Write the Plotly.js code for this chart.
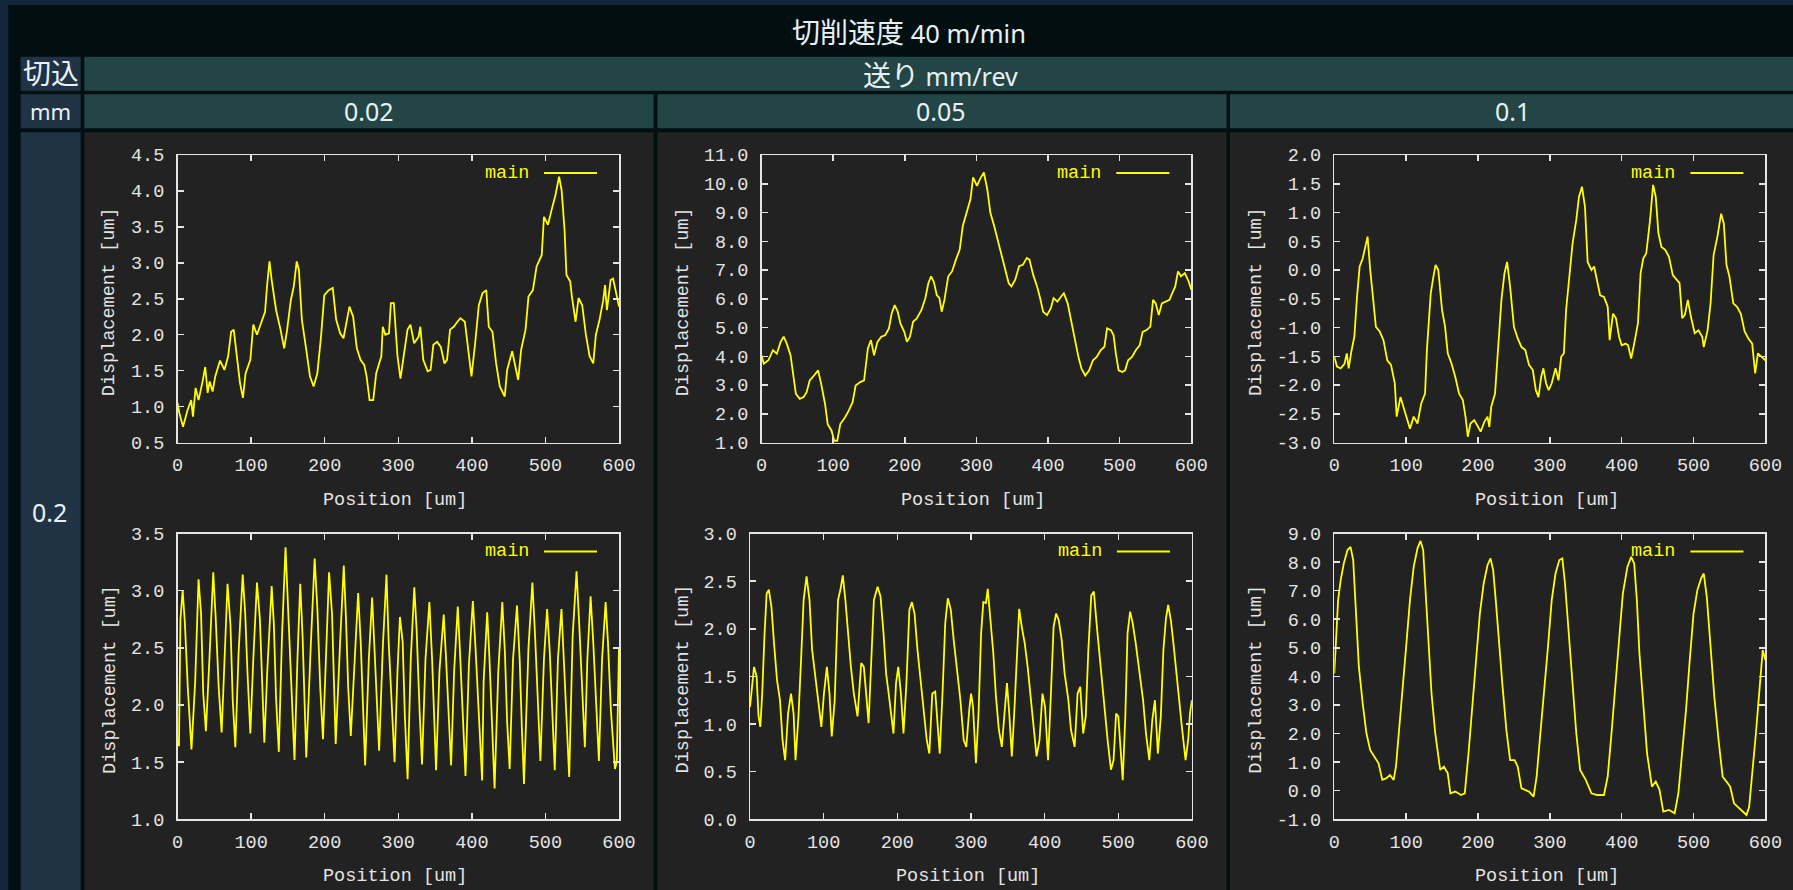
<!DOCTYPE html>
<html>
<head>
<meta charset="utf-8">
<script src="https://cdn.plot.ly/plotly-3.0.1.min.js"></script>
<style>
  html, body { margin: 0; padding: 0; background: #12263d; overflow: hidden; }
  #chart { width: 1793px; height: 890px; }
</style>
</head>
<body>
<div id="chart"></div>
<script>
// Header labels of the comparison table
const titleText = '切削速度';
const speedText = '40 m/min';
const depthHeader = ['切込', 'mm'];
const feedHeader = ['送り', 'mm/rev'];
const feedLabels = ['0.02', '0.05', '0.1'];
const depthLabels = ['0.2'];
const seriesName = 'main';
const xTitle = 'Position [um]';
const yTitle = 'Displacement [um]';

// Shared x ticks (position, um)
const xTickVals = [0, 100, 200, 300, 400, 500, 600];
const xTickText = ['0', '100', '200', '300', '400', '500', '600'];

// Y ticks per panel
const yTicksA = [0.5, 1.0, 1.5, 2.0, 2.5, 3.0, 3.5, 4.0, 4.5];
const yTextA = ['0.5', '1.0', '1.5', '2.0', '2.5', '3.0', '3.5', '4.0', '4.5'];
const yTicksB = [1, 2, 3, 4, 5, 6, 7, 8, 9, 10, 11];
const yTextB = ['1.0', '2.0', '3.0', '4.0', '5.0', '6.0', '7.0', '8.0', '9.0', '10.0', '11.0'];
const yTicksC = [-3.0, -2.5, -2.0, -1.5, -1.0, -0.5, 0.0, 0.5, 1.0, 1.5, 2.0];
const yTextC = ['-3.0', '-2.5', '-2.0', '-1.5', '-1.0', '-0.5', '0.0', '0.5', '1.0', '1.5', '2.0'];
const yTicksD = [1.0, 1.5, 2.0, 2.5, 3.0, 3.5];
const yTextD = ['1.0', '1.5', '2.0', '2.5', '3.0', '3.5'];
const yTicksE = [0.0, 0.5, 1.0, 1.5, 2.0, 2.5, 3.0];
const yTextE = ['0.0', '0.5', '1.0', '1.5', '2.0', '2.5', '3.0'];
const yTicksF = [-1, 0, 1, 2, 3, 4, 5, 6, 7, 8, 9];
const yTextF = ['-1.0', '0.0', '1.0', '2.0', '3.0', '4.0', '5.0', '6.0', '7.0', '8.0', '9.0'];

// Measured displacement profiles: [position um, displacement um]
// depth 0.2, feed 0.02 (upper)
const profA = [[0,1.05],[2.5,0.91],[7.5,0.72],[13.6,0.95],[18.6,1.09],[21,0.86],[24.6,1.26],[28.6,1.09],[33.7,1.33],[37.7,1.55],[41,1.19],[43.7,1.35],[47.7,1.21],[51.3,1.42],[57.8,1.64],[63.8,1.51],[68.8,1.70],[72.9,2.04],[76.4,2.07],[81.4,1.67],[84.9,1.33],[88.9,1.12],[92.5,1.46],[99,1.65],[103,2.14],[108,2.00],[114,2.18],[119,2.32],[121.6,2.67],[125,3.02],[128,2.76],[134,2.34],[140,2.07],[145,1.81],[149,2.07],[154,2.48],[158,2.67],[162,3.02],[165,2.90],[169,2.21],[175,1.79],[180,1.42],[185,1.28],[190,1.46],[195,1.97],[199.5,2.55],[205.5,2.62],[211,2.65],[215.6,2.21],[221,2.02],[225.6,1.95],[229.6,2.16],[233.7,2.39],[238.7,2.25],[243.7,1.81],[248.7,1.65],[253.8,1.58],[257,1.42],[261,1.09],[266,1.09],[270,1.46],[274,1.60],[277,1.70],[279,2.11],[282.4,2.00],[287.4,2.02],[290,2.44],[294,2.44],[296,2.11],[299,1.70],[303,1.39],[307.5,1.70],[312.6,2.07],[316.6,2.14],[321.6,1.88],[327.6,1.97],[330,2.11],[334,1.65],[340,1.49],[344,1.51],[347.7,1.86],[352.8,1.90],[357.8,1.83],[362.8,1.60],[366.3,1.65],[370.4,2.07],[375.4,2.11],[380.4,2.18],[384.4,2.23],[390.5,2.18],[394.5,1.83],[399.5,1.42],[404.5,1.88],[409.5,2.41],[414.6,2.58],[419.6,2.62],[423,2.11],[428,2.04],[433,1.60],[438,1.28],[444.7,1.14],[448,1.51],[454.8,1.77],[458,1.60],[463,1.37],[467,1.79],[473,2.07],[477,2.53],[483,2.62],[488,2.95],[495,3.11],[498,3.64],[503.5,3.53],[508.5,3.74],[513.6,3.94],[518.6,4.20],[522,4.01],[526,3.46],[528.6,2.83],[533.7,2.74],[536,2.53],[541,2.18],[545,2.51],[550,2.41],[555,2.00],[560,1.70],[565,1.60],[568.6,2.00],[573.6,2.21],[578.6,2.48],[581,2.69],[583.6,2.34],[588.6,2.76],[592,2.78],[596.5,2.53],[600,2.39]];

// depth 0.2, feed 0.05 (upper)
const profB = [[0,4.03],[3.2,3.74],[9.6,3.86],[16,4.21],[21.4,4.09],[26.7,4.50],[31,4.68],[35.3,4.44],[40.6,4.03],[44.3,3.28],[48,2.69],[53.4,2.52],[58.8,2.58],[63,2.75],[67.3,3.16],[71.6,3.28],[76.4,3.45],[79,3.51],[83.3,3.04],[88.7,2.34],[92.4,1.64],[97.8,1.41],[101.5,1.06],[105.8,1.06],[110,1.64],[116.5,1.87],[121.8,2.11],[127.2,2.40],[131.4,2.98],[137.8,3.10],[143.2,3.16],[148.5,4.27],[152.8,4.56],[157.1,4.03],[161.9,4.50],[167.2,4.68],[172.6,4.73],[177.9,4.97],[181.7,5.49],[185.9,5.78],[190.2,5.55],[193.9,5.14],[199.3,4.85],[203,4.50],[207.3,4.68],[211.6,5.20],[216.9,5.32],[223.3,5.61],[228.7,6.02],[232.9,6.54],[236.7,6.78],[240.4,6.60],[244.7,6.13],[248.4,6.02],[251.6,5.55],[255.4,5.96],[260.7,6.78],[266,6.95],[271.4,7.36],[276.7,7.71],[281,8.53],[286.4,9.05],[291.7,9.46],[295.4,10.22],[300.8,9.93],[305,10.16],[310.4,10.39],[315.2,9.81],[319.5,8.99],[324.8,8.53],[330.2,8.00],[335.5,7.48],[339.8,7.01],[345.1,6.54],[348.9,6.43],[354.2,6.66],[359.6,7.13],[364.9,7.18],[370.3,7.42],[374,7.36],[379.3,6.83],[384.7,6.43],[389,6.02],[393.2,5.55],[398.6,5.43],[403.9,5.67],[407.7,6.02],[413,5.90],[418.4,6.08],[422.1,6.19],[427.4,5.84],[432.8,5.14],[437.1,4.56],[442.4,3.98],[446.7,3.57],[452,3.33],[457.4,3.51],[462.7,3.86],[468,3.98],[473.4,4.21],[478.7,4.33],[482.4,4.97],[487.8,4.91],[491.5,4.73],[494.7,4.09],[498.5,3.51],[503.8,3.45],[507.6,3.51],[511.8,3.86],[517.2,3.98],[522.5,4.21],[527.9,4.38],[532.1,4.85],[537.5,4.91],[542.8,5.03],[546.6,5.96],[550.3,5.84],[554.6,5.43],[558.9,5.84],[564.2,5.90],[569.6,5.96],[573.3,6.19],[577.6,6.43],[581.4,6.95],[585.6,6.78],[591,6.89],[596.3,6.60],[600,6.31]];

// depth 0.2, feed 0.1 (upper)
const profC = [[0,-1.51],[3.7,-1.68],[8.9,-1.71],[14.2,-1.63],[17.4,-1.45],[20,-1.71],[23.7,-1.42],[27.9,-1.16],[31.6,-0.47],[35.3,0.06],[39.5,0.20],[42.6,0.38],[46.3,0.58],[50,0.00],[54.2,-0.58],[57.9,-0.99],[63.2,-1.07],[68.4,-1.22],[73.7,-1.57],[78.9,-1.65],[84.2,-1.97],[86.8,-2.55],[92.1,-2.21],[97.4,-2.44],[105.3,-2.76],[110.5,-2.55],[115.8,-2.67],[121,-2.32],[126.3,-2.15],[128.9,-1.39],[134.2,-0.41],[137.9,-0.12],[141,0.09],[144.7,0.00],[150,-0.70],[154.2,-0.99],[157.9,-1.45],[163.2,-1.63],[168.4,-1.86],[173.7,-2.15],[178.9,-2.26],[182.6,-2.55],[185.8,-2.90],[189.5,-2.67],[194.7,-2.61],[198.9,-2.70],[203.7,-2.81],[208.9,-2.64],[213.2,-2.55],[215.8,-2.73],[218.4,-2.38],[223.7,-2.15],[227.9,-1.39],[232.6,-0.52],[236.8,-0.06],[240.5,0.14],[244.7,-0.29],[250,-0.99],[255.3,-1.19],[260.5,-1.34],[265.8,-1.39],[271,-1.65],[276.3,-1.74],[280.5,-2.09],[284.2,-2.21],[287.9,-1.86],[291,-1.71],[294.7,-1.97],[298.4,-2.09],[302.6,-1.97],[307.9,-1.71],[312.1,-1.92],[315.8,-1.51],[319.5,-1.45],[322.6,-0.70],[326.3,-0.23],[331.6,0.46],[336.8,0.87],[340.5,1.27],[344.7,1.45],[348.9,1.10],[352.6,0.14],[357.9,0.00],[361.6,0.06],[365.8,-0.17],[370,-0.44],[375.3,-0.47],[380.5,-0.64],[383.2,-1.22],[387.9,-0.76],[392.1,-0.84],[396.3,-1.16],[400,-1.31],[405.3,-1.28],[408.9,-1.31],[413.2,-1.54],[417.4,-1.28],[422.6,-0.93],[426.3,-0.06],[430,0.20],[434.2,0.29],[439.5,0.87],[443.7,1.48],[447.4,1.27],[451.1,0.64],[455.3,0.40],[460.5,0.35],[465.8,0.23],[471.1,-0.09],[476.3,-0.17],[480.5,-0.23],[484.2,-0.84],[487.9,-0.78],[492.1,-0.52],[496.3,-0.81],[501.6,-1.10],[506.8,-1.05],[512.1,-1.16],[514.2,-1.34],[519.5,-1.05],[523.7,-0.58],[527.9,0.26],[533.2,0.58],[538.4,0.98],[542.1,0.81],[545.8,0.09],[550,-0.12],[555.3,-0.58],[560.5,-0.64],[565.8,-0.76],[571.1,-1.07],[576.3,-1.19],[581.6,-1.28],[585.8,-1.80],[589.5,-1.45],[594.7,-1.51],[600,-1.57]];

// depth 0.2, feed 0.02 (lower)
const profD = [[0,1.70],[2,1.64],[4,2.75],[7,3.00],[10,2.72],[14,2.15],[19,1.61],[24,2.20],[28.6,3.10],[32,2.80],[35,2.10],[38.6,1.77],[43,2.35],[48.6,3.16],[52,2.75],[56,2.15],[60,1.76],[64,2.40],[68,3.06],[72,2.70],[75,2.05],[78.6,1.63],[83,2.45],[88.6,3.14],[92,2.80],[95,2.30],[99,1.75],[103,2.40],[108,3.07],[112,2.75],[115,2.10],[118,1.67],[122,2.30],[128,3.04],[131,2.70],[134,2.05],[137.7,1.59],[142,2.60],[146.8,3.38],[150,2.90],[154,2.20],[159,1.52],[163,2.40],[166.8,3.06],[170,2.60],[173,2.00],[175,1.54],[181,2.50],[186.4,3.28],[190,2.85],[194,2.15],[197.7,1.70],[202,2.50],[206,3.16],[210,2.80],[213,2.10],[215,1.66],[221,2.55],[226,3.22],[229,2.75],[232,2.15],[235.5,1.73],[241,2.45],[245.5,2.98],[249,2.55],[252,2.00],[255,1.47],[260,2.40],[264.5,2.94],[268,2.45],[271,1.95],[274,1.60],[279,2.50],[284,3.14],[287,2.55],[291,2.00],[295,1.50],[299,2.30],[302.3,2.77],[306,2.55],[309,1.90],[312.7,1.35],[317,2.40],[321.8,3.03],[325,2.65],[329,1.95],[332.3,1.48],[337,2.40],[342.3,2.90],[346,2.40],[349,1.80],[351.4,1.43],[356,2.30],[361.8,2.79],[365,2.40],[369,1.85],[371.8,1.47],[376,2.30],[380.9,2.86],[384,2.45],[388,1.85],[391.4,1.38],[396,2.35],[401.4,2.91],[405,2.50],[410,1.80],[414,1.34],[416,2.20],[420.9,2.81],[424,2.40],[428,1.80],[430.9,1.27],[436,2.30],[441.4,2.90],[445,2.45],[448,1.85],[451.4,1.44],[456,2.40],[461.4,2.87],[465,2.40],[468,1.80],[470.9,1.31],[477,2.50],[482.3,3.07],[486,2.60],[490,2.00],[493.2,1.51],[498,2.40],[502.3,2.84],[506,2.45],[510,1.90],[512.7,1.43],[517,2.40],[521.8,2.84],[525,2.40],[529,1.85],[532.3,1.37],[537,2.60],[542.3,3.17],[546,2.70],[550,2.05],[553.6,1.63],[557,2.40],[561.4,2.95],[565,2.55],[569,1.95],[572.7,1.51],[577,2.40],[581.8,2.90],[585,2.55],[589,1.95],[594.5,1.44],[597,1.50],[600,2.50]];

// depth 0.2, feed 0.05 (lower)
const profE = [[0,1.18],[2.5,1.39],[5.5,1.60],[9,1.50],[11.5,1.09],[14,0.97],[16.6,1.32],[19.6,1.92],[22.6,2.37],[25.6,2.41],[29.1,2.23],[32.6,1.85],[36.7,1.46],[40.7,1.25],[44.2,0.83],[47.7,0.62],[51.7,1.11],[55.7,1.32],[59.2,1.11],[61.8,0.62],[65.8,1.08],[69.3,1.67],[72.8,2.30],[76.8,2.55],[80.8,2.30],[84.3,1.78],[89.4,1.46],[92.9,1.18],[96.9,0.97],[100.4,1.32],[104.4,1.60],[107.9,1.32],[111,0.87],[115,1.25],[119.5,2.30],[123,2.42],[126,2.56],[129.5,2.30],[133,1.95],[137,1.60],[141,1.32],[146,1.08],[151,1.64],[154.6,1.60],[158,1.29],[161,1.01],[164.7,1.67],[168.2,2.30],[173.2,2.44],[177.2,2.34],[181.3,1.95],[184.8,1.53],[188.3,1.32],[192.3,1.04],[194.8,0.90],[198.3,1.43],[201.3,1.60],[204.9,1.32],[208.4,0.90],[212.4,1.43],[216.4,2.20],[219.9,2.28],[223.4,2.16],[227.4,1.78],[232.5,1.39],[236.5,1.08],[240,0.83],[243.5,0.69],[247.5,1.32],[251.5,1.34],[255,0.90],[257.6,0.69],[261.6,1.36],[265.1,2.06],[268.6,2.32],[272.6,2.20],[276.6,1.88],[281.7,1.50],[285.7,1.25],[290.2,0.83],[293.7,0.76],[297.7,1.15],[300.2,1.32],[302.8,1.18],[306.8,0.59],[310.3,1.11],[313.8,1.95],[316.8,2.28],[320.3,2.27],[322.8,2.42],[326.9,2.02],[330.4,1.74],[333.9,1.29],[337.9,0.94],[341.9,0.76],[345.4,1.11],[348.9,1.43],[352,1.11],[355.5,0.66],[359,1.15],[363,1.81],[365.5,2.21],[369,2.02],[373,1.85],[377,1.60],[380.6,1.32],[384.1,1.08],[389.1,0.66],[393.1,0.83],[397.1,1.32],[400.6,1.18],[404.7,0.62],[408.2,1.25],[412.2,2.02],[415.7,2.16],[419.2,2.09],[423.2,1.88],[427.2,1.53],[432.3,1.25],[435.8,0.94],[440.8,0.76],[444.8,1.32],[448.4,1.39],[452.4,0.90],[455.9,1.08],[459.4,1.78],[463.4,2.35],[466.9,2.39],[471,2.02],[474.5,1.71],[478.5,1.39],[482.5,1.08],[486,0.80],[490.1,0.52],[493.6,0.62],[497.1,1.11],[500.1,1.08],[503.6,0.69],[506.1,0.41],[509.6,1.08],[512.6,1.95],[516.1,2.18],[519.6,2.06],[523.7,1.85],[528.7,1.53],[533.7,1.25],[537.7,0.90],[542.2,0.62],[546.2,1.04],[549.8,1.25],[553.8,0.69],[557.8,1.08],[561.3,1.78],[564.8,2.11],[567.8,2.25],[571.4,2.09],[574.9,1.85],[578.9,1.53],[582.9,1.25],[586.4,0.97],[591.4,0.62],[594.9,0.83],[597.4,1.11],[600,1.25]];

// depth 0.2, feed 0.1 (lower)
const profF = [[0,4.10],[2.6,5.50],[5.3,6.67],[8.9,7.37],[13.2,7.95],[18.4,8.42],[22.6,8.53],[26.3,8.07],[30,6.09],[34.2,4.34],[39.5,3.06],[44.7,2.01],[50,1.42],[56.3,1.19],[61.6,0.96],[66.8,0.38],[72.1,0.43],[77.4,0.55],[82.6,0.38],[85.8,0.84],[89.5,2.01],[94.7,3.41],[100,5.04],[105.3,6.67],[110.5,7.83],[115.8,8.48],[120,8.74],[123.7,8.42],[127.9,6.67],[131.6,4.92],[135.3,3.41],[140.5,2.01],[147.4,0.73],[152.6,0.84],[157.9,0.61],[161.6,-0.09],[168.4,-0.03],[176.3,-0.15],[181.6,-0.09],[186.8,1.31],[192.1,2.94],[197.4,4.34],[202.6,6.20],[207.9,7.25],[213.2,7.89],[217.4,8.13],[221.1,7.72],[224.7,6.67],[228.9,5.27],[234.2,3.64],[239.5,2.12],[244.7,1.07],[251,1.07],[255.3,0.84],[260.5,0.08],[265.8,0.03],[271,-0.03],[277.4,-0.21],[281.6,0.49],[286.8,2.01],[292.1,3.41],[297.4,5.04],[302.6,6.67],[307.9,7.60],[313.2,8.07],[317.4,8.13],[321.1,7.25],[326.3,5.50],[331.6,3.64],[336.8,2.01],[342.1,0.73],[350,0.38],[357.9,-0.09],[365.8,-0.15],[375.3,-0.15],[380.5,0.49],[385.8,2.01],[391.1,3.64],[396.3,5.27],[401.6,6.90],[407.9,7.83],[413.2,8.18],[417.4,7.95],[421.1,6.67],[424.7,4.80],[430,2.94],[435.3,1.31],[442.1,0.14],[447.4,0.32],[452.6,0.03],[457.9,-0.73],[465.8,-0.67],[473.7,-0.79],[478.9,-0.09],[484.2,1.31],[489.5,2.82],[494.7,4.57],[500,6.20],[505.3,7.02],[510.5,7.43],[514.2,7.60],[518.4,6.79],[523.7,5.04],[528.9,3.29],[535.3,1.66],[540.5,0.49],[545.8,0.32],[551,0.14],[556.3,-0.44],[561.6,-0.56],[566.8,-0.67],[573.7,-0.85],[577.4,-0.56],[581.6,0.49],[586.8,2.01],[592.1,3.64],[596.3,4.92],[600,4.57]];

// ---- page geometry (pixels) ----
const W = 1793, H = 890;
const fx = p => p / W;
const fy = p => 1 - p / H;

const COL = {
  navy: '#12263d', black: '#010f10', teal: '#234545',
  label: '#203345', cell: '#222222', text: '#e9f0f3',
  axis: '#e4e4e4', trace: '#ffff00'
};
const HDR_FONT = '"Noto Sans", "Noto Sans CJK JP", sans-serif';
const PLOT_FONT = '"Liberation Mono", "DejaVu Sans Mono", monospace';
const PLOT_FS = 18.5;

// plot frames: [left, top, right, bottom]; columns per feed, rows stacked in the 0.2 cell
const panels = [
  { prof: profA, tv: yTicksA, tt: yTextA, box: [177.5, 155, 619, 442.5], ytOff: 68 },
  { prof: profB, tv: yTicksB, tt: yTextB, box: [761.5, 155, 1191.3, 442.5], ytOff: 78 },
  { prof: profC, tv: yTicksC, tt: yTextC, box: [1334.3, 155, 1765.4, 442.5], ytOff: 78 },
  { prof: profD, tv: yTicksD, tt: yTextD, box: [177.5, 533.5, 619, 819.3], ytOff: 67 },
  { prof: profE, tv: yTicksE, tt: yTextE, box: [750, 533.5, 1191.9, 819.3], ytOff: 67 },
  { prof: profF, tv: yTicksF, tt: yTextF, box: [1334.3, 533.5, 1765.4, 819.3], ytOff: 78 }
];

const rect = (x0, y0, x1, y1, color) => ({
  type: 'rect', xref: 'paper', yref: 'paper', layer: 'below',
  x0: fx(x0), x1: fx(x1), y0: fy(y1), y1: fy(y0),
  fillcolor: color, line: { width: 0 }
});

const shapes = [
  rect(8.3, 5, W, H, COL.black),
  rect(20.7, 56.7, 80.7, 90.7, COL.label),
  rect(20.7, 94.3, 80.7, 128.3, COL.label),
  rect(20.7, 132.3, 80.7, H, COL.label),
  rect(84.3, 56.7, W, 90.7, COL.teal),
  rect(84.3, 94.3, 653.6, 128.3, COL.teal),
  rect(657.4, 94.3, 1226.5, 128.3, COL.teal),
  rect(1230, 94.3, W, 128.3, COL.teal),
  rect(84.3, 132.3, 653.6, H, COL.cell),
  rect(657.4, 132.3, 1226.5, H, COL.cell),
  rect(1230, 132.3, W, H, COL.cell)
];

const cjk = s => '<span style="font-size:28px">' + s + '</span>';
const hdr = (text, x, y, size) => ({
  text: text, xref: 'paper', yref: 'paper', x: fx(x), y: fy(y),
  xanchor: 'center', yanchor: 'middle', showarrow: false,
  font: { family: HDR_FONT, size: size, color: COL.text }
});

const annotations = [
  hdr(cjk(titleText) + ' ' + speedText, 908.7, 32, 25.5),
  hdr(cjk(feedHeader[0]) + ' ' + feedHeader[1], 941, 74.5, 25),
  hdr(cjk(depthHeader[0]), 50.7, 73.5, 25),
  hdr(depthHeader[1], 50.7, 110.5, 22),
  hdr(feedLabels[0], 369, 111, 25),
  hdr(feedLabels[1], 941.5, 111, 25),
  hdr(feedLabels[2], 1512.5, 111, 25),
  hdr(depthLabels[0], 49.5, 511.5, 25)
];

const traces = [];
const layout = {
  width: W, height: H,
  margin: { l: 0, r: 0, t: 0, b: 0 },
  paper_bgcolor: COL.navy,
  plot_bgcolor: COL.cell,
  showlegend: false,
  shapes: shapes,
  annotations: annotations
};

panels.forEach((p, i) => {
  const n = i === 0 ? '' : String(i + 1);
  const [L, T, R, B] = p.box;
  traces.push({
    type: 'scatter', mode: 'lines', name: seriesName,
    x: p.prof.map(d => d[0]), y: p.prof.map(d => d[1]),
    xaxis: 'x' + n, yaxis: 'y' + n,
    line: { color: COL.trace, width: 1.8 },
    hoverinfo: 'skip'
  });
  const common = {
    showline: true, linecolor: COL.axis, linewidth: 1.5, mirror: 'ticks',
    ticks: 'inside', ticklen: 6, tickwidth: 1.5, tickcolor: COL.axis,
    showgrid: false, zeroline: false, fixedrange: true,
    tickfont: { family: PLOT_FONT, size: PLOT_FS, color: COL.axis },
    tickmode: 'array'
  };
  layout['xaxis' + n] = Object.assign({}, common, {
    domain: [fx(L), fx(R)], anchor: 'y' + n, range: [0, 600],
    tickvals: xTickVals, ticktext: xTickText, ticklabelstandoff: 5
  });
  layout['yaxis' + n] = Object.assign({}, common, {
    domain: [fy(B), fy(T)], anchor: 'x' + n,
    range: [p.tv[0], p.tv[p.tv.length - 1]],
    tickvals: p.tv, ticktext: p.tt, ticklabelstandoff: 8
  });

  // axis titles
  annotations.push({
    text: xTitle, xref: 'paper', yref: 'paper',
    x: fx((L + R) / 2 - 3), y: fy(B + 57.5), xanchor: 'center', yanchor: 'middle',
    showarrow: false, font: { family: PLOT_FONT, size: PLOT_FS, color: COL.axis }
  });
  annotations.push({
    text: yTitle, xref: 'paper', yref: 'paper', textangle: -90,
    x: fx(L - p.ytOff), y: fy((T + B) / 2 + 3), xanchor: 'center', yanchor: 'middle',
    showarrow: false, font: { family: PLOT_FONT, size: PLOT_FS, color: COL.axis }
  });

  // key: label on the left, line sample on the right
  annotations.push({
    text: seriesName, xref: 'paper', yref: 'paper',
    x: fx(R - 88), y: fy(T + 18), xanchor: 'right', yanchor: 'middle',
    showarrow: false, font: { family: PLOT_FONT, size: PLOT_FS, color: COL.trace }
  });
  shapes.push({
    type: 'line', xref: 'paper', yref: 'paper', layer: 'above',
    x0: fx(R - 75), x1: fx(R - 22), y0: fy(T + 18), y1: fy(T + 18),
    line: { color: COL.trace, width: 1.8 }
  });
});

Plotly.newPlot('chart', traces, layout, { staticPlot: true, displayModeBar: false });
</script>
</body>
</html>
